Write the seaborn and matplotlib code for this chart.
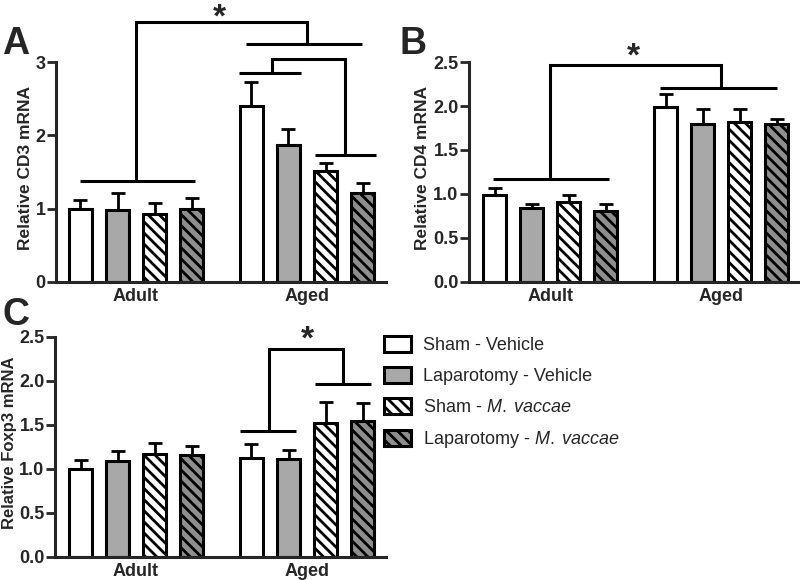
import numpy as np
import pandas as pd
import seaborn as sns
import matplotlib
matplotlib.use("Agg")
import matplotlib.pyplot as plt
from matplotlib.patches import Patch

# ---------------- data ----------------
ages = ["Adult", "Aged"]
groups = ["Sham - Vehicle", "Laparotomy - Vehicle", "Sham - M. vaccae", "Laparotomy - M. vaccae"]
legend_labels = ["Sham - Vehicle", "Laparotomy - Vehicle",
                 r"Sham - $\it{M.\;vaccae}$", r"Laparotomy - $\it{M.\;vaccae}$"]

cd3_adult = [0.99, 0.98, 0.93, 1.00]
cd3_aged = [2.40, 1.87, 1.52, 1.21]
cd3_adult_top = [1.12, 1.22, 1.08, 1.14]
cd3_aged_top = [2.73, 2.09, 1.62, 1.35]

cd4_adult = [0.99, 0.84, 0.91, 0.81]
cd4_aged = [1.99, 1.79, 1.82, 1.79]
cd4_adult_top = [1.07, 0.89, 0.99, 0.89]
cd4_aged_top = [2.14, 1.97, 1.97, 1.85]

foxp3_adult = [1.00, 1.09, 1.17, 1.16]
foxp3_aged = [1.13, 1.11, 1.52, 1.55]
foxp3_adult_top = [1.10, 1.20, 1.30, 1.26]
foxp3_aged_top = [1.28, 1.21, 1.76, 1.75]

fills = ["#ffffff", "#a8a8a8", "#ffffff", "#8e8e8e"]
hatches = ["", "", "\\\\\\", "\\\\\\"]

# ---------------- style ----------------
sns.set_style("ticks")
plt.rcParams["font.family"] = ["Liberation Sans", "DejaVu Sans"]
plt.rcParams["mathtext.fontset"] = "custom"
plt.rcParams["mathtext.rm"] = "Liberation Sans"
plt.rcParams["mathtext.it"] = "Liberation Sans:italic"
plt.rcParams["hatch.linewidth"] = 2.0
plt.rcParams["hatch.color"] = "black"

LW = 2.2
fig = plt.figure(figsize=(8, 5.8), dpi=100)


def make_df(adult, aged, adult_top, aged_top):
    rows = []
    for a, vals, tops in (("Adult", adult, adult_top), ("Aged", aged, aged_top)):
        for g, v, t in zip(groups, vals, tops):
            rows.append({"age": a, "group": g, "value": v, "top": t})
    return pd.DataFrame(rows)


def panel(rect, df, ylim, yticks, fmt, ylabel, xlim, label_x, label_size=12.5):
    ax = fig.add_axes(rect)
    sns.barplot(data=df, x="age", y="value", hue="group", order=ages, hue_order=groups,
                palette=fills, edgecolor="black", linewidth=LW, width=0.866, gap=0.36,
                errorbar=None, legend=False, saturation=1, ax=ax)
    bar_conts = list(ax.containers)
    for gi, cont in enumerate(bar_conts):
        for bar, age in zip(list(cont), ages):
            bar.set_hatch(hatches[gi])
            bar.set_zorder(2)
            g = groups[gi]
            top = df[(df.age == age) & (df.group == g)]["top"].iloc[0]
            xc = bar.get_x() + bar.get_width() / 2
            h = bar.get_height()
            ax.errorbar([xc], [h], yerr=[[0], [top - h]], fmt="none", ecolor="black",
                        elinewidth=2.0, capsize=4.7, capthick=2.0, zorder=1)
    ax.set_xlim(*xlim)
    ax.set_ylim(*ylim)
    ax.set_yticks(yticks)
    ax.set_yticklabels([fmt.format(t) for t in yticks], fontsize=13, fontweight="bold")
    ax.set_xticks(range(len(ages)))
    ax.set_xticklabels(ages, fontsize=13, fontweight="bold")
    ax.tick_params(axis="x", length=0, pad=4)
    ax.tick_params(axis="y", length=6.5, width=2, direction="out", pad=1)
    ax.set_xlabel("")
    ax.set_ylabel(ylabel, fontsize=label_size, fontweight="bold")
    ax.yaxis.set_label_coords(label_x, 0.52)
    for s in ("left", "bottom"):
        ax.spines[s].set_linewidth(LW)
    sns.despine(ax=ax)
    return ax


def hline(ax, x0, x1, y):
    ax.plot([x0, x1], [y, y], color="black", lw=LW, clip_on=False, solid_capstyle="butt")


def bracket(ax, x0, x1, ybase0, ytop, ybase1):
    ax.plot([x0, x0, x1, x1], [ybase0, ytop, ytop, ybase1], color="black", lw=LW,
            clip_on=False, solid_joinstyle="miter")


def star(ax, x, y):
    ax.text(x, y, "*", ha="center", va="baseline", fontsize=24, fontweight="bold", clip_on=False)


# Panel A
axA = panel([0.07, 0.5138, 0.4125, 0.3793],
            make_df(cd3_adult, cd3_aged, cd3_adult_top, cd3_aged_top),
            (0, 3), [0, 1, 2, 3], "{:.0f}", "Relative CD3 mRNA", (-0.468, 1.462), -0.07)
hline(axA, -0.327, 0.345, 1.38)
bracket(axA, 0.0, 1.0, 1.38, 3.55, 3.25)
hline(axA, 0.643, 1.322, 3.25)
hline(axA, 0.602, 0.965, 2.85)
bracket(axA, 0.795, 1.222, 2.85, 3.04, 1.73)
hline(axA, 1.047, 1.404, 1.73)
star(axA, 0.485, 3.49)

# Panel B
axB = panel([0.58625, 0.5138, 0.41125, 0.3793],
            make_df(cd4_adult, cd4_aged, cd4_adult_top, cd4_aged_top),
            (0, 2.5), [0, 0.5, 1.0, 1.5, 2.0, 2.5], "{:.1f}", "Relative CD4 mRNA",
            (-0.474, 1.45), -0.119)
hline(axB, -0.333, 0.345, 1.17)
bracket(axB, 0.0, 1.0, 1.17, 2.47, 2.2)
hline(axB, 0.643, 1.327, 2.2)
star(axB, 0.485, 2.46)

# Panel C
axC = panel([0.06875, 0.0397, 0.41375, 0.3793],
            make_df(foxp3_adult, foxp3_aged, foxp3_adult_top, foxp3_aged_top),
            (0, 2.5), [0, 0.5, 1.0, 1.5, 2.0, 2.5], "{:.1f}", "Relative Foxp3 mRNA",
            (-0.474, 1.462), -0.115, label_size=12)
hline(axC, 0.608, 0.936, 1.43)
bracket(axC, 0.778, 1.211, 1.43, 2.36, 1.97)
hline(axC, 1.047, 1.374, 1.97)
star(axC, 1.0, 2.37)

# Panel letters
for txt, x, y in (("A", 0.003, 0.955), ("B", 0.5, 0.955), ("C", 0.003, 0.488)):
    fig.text(x, y, txt, fontsize=27, fontweight="bold", ha="left", va="top")

# Legend
handles = [Patch(facecolor=f, edgecolor="black", linewidth=LW, hatch=h) for f, h in zip(fills, hatches)]
fig.legend(handles, legend_labels, loc="upper left", bbox_to_anchor=(384 / 800, 1 - 336 / 580),
           frameon=False, fontsize=13, handlelength=1.5, handleheight=0.95, handletextpad=0.65,
           labelspacing=0.72, borderpad=0, borderaxespad=0)

fig.savefig("out.png", dpi=100)
